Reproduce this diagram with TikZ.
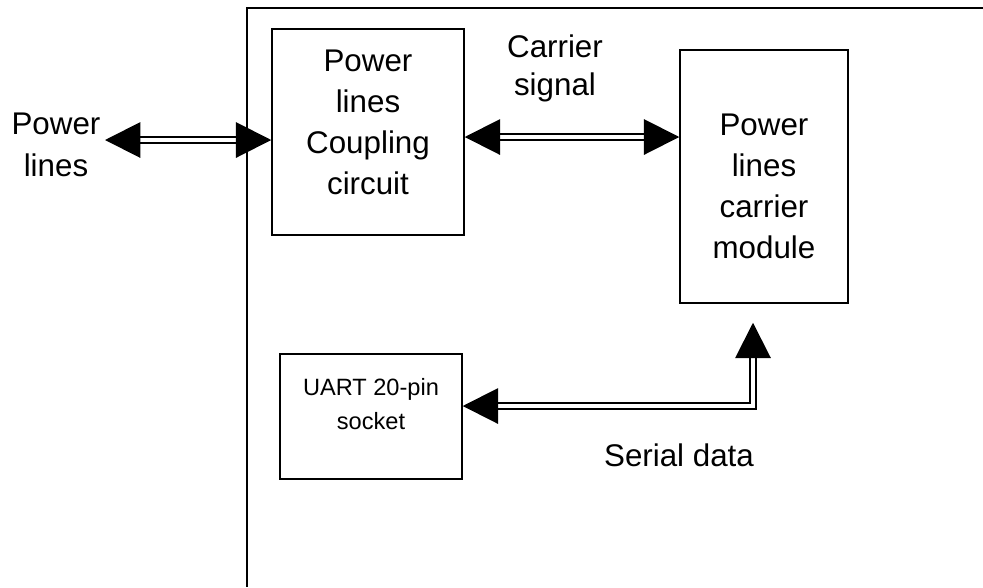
\documentclass[tikz,border=0pt]{standalone}
\usepackage{fontspec}
\setmainfont{Liberation Sans}
\usetikzlibrary{arrows.meta}
\definecolor{line-black}{RGB}{0, 0, 0}

\begin{document}
\begin{tikzpicture}[x=0.75pt, y=-0.75pt,
    blk/.style={draw=line-black, line width=1.1pt, rectangle, inner sep=0pt, align=center},
    big/.style={font=\fontsize{23.5}{30.75}\selectfont},
    dline/.style={draw=line-black, double, line width=1.5pt, double distance=2.4pt,
        {Triangle[length=26.5pt, width=26.5pt]}-{Triangle[length=26.5pt, width=26.5pt]}}]
\useasboundingbox (0,0) rectangle (983,587);
\draw[line-black, line width=1.1pt] (983,8) -- (247,8) -- (247,587);
\node[blk, big, minimum width=144pt, minimum height=154.5pt] (cpl) at (368,132)
    {Power\\lines\\Coupling\\circuit\rule[-14pt]{0pt}{0pt}};
\node[blk, big, minimum width=126pt, minimum height=189.75pt] (mod) at (764,176.5)
    {\rule{0pt}{30.75pt}Power\\lines\\carrier\\module};
\node[blk, font=\fontsize{17.7}{26}\selectfont, minimum width=136.5pt, minimum height=93.75pt] (uart) at (371,416.5)
    {UART 20-pin\\socket\rule[-18.75pt]{0pt}{0pt}};
\node[align=center, font=\fontsize{23.5}{31.5}\selectfont] (plbl) at (56,145) {Power\\lines};
\node[align=center, font=\fontsize{23.5}{28.5}\selectfont] (cslbl) at (555,68) {Carrier\\signal};
\node[big] (sdlbl) at (679,455) {Serial data};
\coordinate (plend) at (105,140);
\coordinate (csy) at (0,137);
\coordinate (sdc) at (753,406);
\draw[dline] (plend) -- (plend -| cpl.west);
\draw[dline] (cpl.east |- csy) -- (mod.west |- csy);
\draw[dline, shorten >=14.25pt] (uart.east |- sdc) -- (sdc) -- (sdc |- mod.south);
\end{tikzpicture}
\end{document}
